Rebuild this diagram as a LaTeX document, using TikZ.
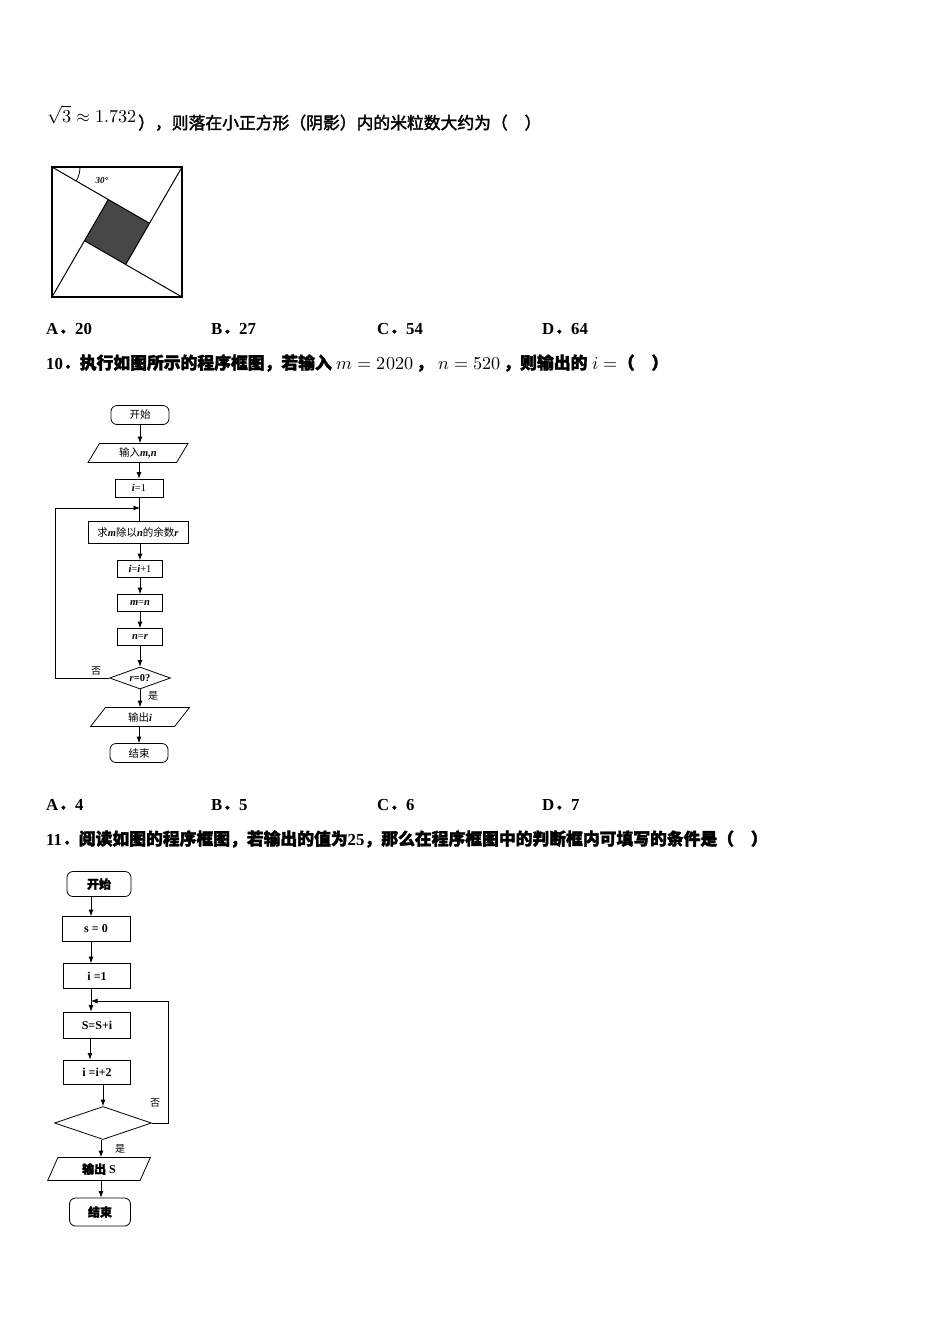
\documentclass[tikz,border=0pt]{standalone}
\usepackage{fontspec}
\usepackage{unicode-math}
\setmainfont{Liberation Serif}
\setmathfont{Latin Modern Math}[Scale=1.08]
\newfontfamily\cjk{Noto Sans CJK SC}
\newfontfamily\cjkb[FakeBold=2]{Noto Sans CJK SC}
\newcommand{\bi}[1]{{\rmfamily\bfseries\itshape #1}}
\usetikzlibrary{shapes.geometric,arrows.meta}
\begin{document}
\begin{tikzpicture}[x=1pt,y=-1pt,
  txt/.style={anchor=base west,inner sep=0,font=\fontsize{16.8}{19}\selectfont},
  box/.style={draw,line width=0.8pt,inner sep=0,font=\fontsize{10.5}{12}\selectfont},
  rbox/.style={box,rounded corners=6pt},
  para/.style={box,trapezium,trapezium left angle=62,trapezium right angle=118,trapezium stretches=true},
  dia/.style={box,diamond,aspect=2.8},
  arr/.style={-{Latex[length=6.5pt,width=5pt]},line width=0.8pt},
  ln/.style={line width=0.8pt},
  lbl/.style={inner sep=0,font=\cjk\fontsize{10}{11}\selectfont}]
\useasboundingbox (0,0) rectangle (950,1344);
% line 1
\node[txt] (sq) at (47,122) {$\sqrt{3}\approx1.732$};
\node[txt] (l1) at (138,129) {\cjkb ），则落在小正方形（阴影）内的米粒数大约为（　）};
% square figure
\coordinate (TL) at (52,167); \coordinate (TR) at (182,167);
\coordinate (BR) at (182,297); \coordinate (BL) at (52,297);
\coordinate (P1) at (149.5,223.3); \coordinate (P2) at (125.7,264.5);
\coordinate (P3) at (84.5,240.7); \coordinate (P4) at (108.3,199.5);
\fill[black!72] (P1)--(P2)--(P3)--(P4)--cycle;
\draw[line width=1.2pt] (TL) rectangle (BR);
\draw[line width=1pt] (TL)--(P1)--(TR) (TR)--(P2)--(BR) (BR)--(P3)--(BL) (BL)--(P4)--(TL);
\draw[ln] (80,167) arc[start angle=0,end angle=30,radius=28];
\node[inner sep=0,font=\bfseries\itshape\fontsize{9}{10}\selectfont] (ang) at (102,181) {30°};
% answers 9
\node[txt] (a9) at (46,334) {\bfseries A{\cjkb ．}20};
\node[txt] (b9) at (211,334) {\bfseries B{\cjkb ．}27};
\node[txt] (c9) at (377,334) {\bfseries C{\cjkb ．}54};
\node[txt] (d9) at (542,334) {\bfseries D{\cjkb ．}64};
% question 10
\node[txt] (q10) at (46,369) {\bfseries 10{\cjkb ．执行如图所示的程序框图，若输入}$\;m=2020\,${\cjkb ，}$\;n=520\,${\cjkb ，则输出的}$\;i=${\cjkb （　）}};
% flowchart 1
\node[rbox,minimum width=58,minimum height=19] (s1) at (140,415) {\cjk 开始};
\node[para,minimum width=100,minimum height=19] (in1) at (138,453) {{\cjk 输入}\bi{m,n}};
\node[box,minimum width=48,minimum height=18] (i1) at (139,488) {\bi{i}=1};
\node[box,minimum width=100,minimum height=22] (rem) at (138,532) {{\cjk 求}\bi{m}{\cjk 除以}\bi{n}{\cjk 的余数}\bi{r}};
\node[box,minimum width=45,minimum height=17] (inc) at (140,569) {\bi{i}=\bi{i}+1};
\node[box,minimum width=45,minimum height=17] (mn) at (140,603) {\bi{m}=\bi{n}};
\node[box,minimum width=45,minimum height=17] (nr) at (140,637) {\bi{n}=\bi{r}};
\node[dia,minimum width=61,minimum height=22] (d1) at (140,678) {\bi{r}\textbf{=0?}};
\node[para,minimum width=99,minimum height=19] (out1) at (140,717) {{\cjk 输出}\bi{i}};
\node[rbox,minimum width=58,minimum height=19] (e1) at (139,753) {\cjk 结束};
\coordinate (L1a) at (55,678); \coordinate (L1b) at (55,508); \coordinate (L1c) at (140,508);
\draw[arr] (s1)--(s1|-in1.north);
\draw[arr] (in1.south-|i1)--(i1);
\draw[ln] (i1)--(rem.north-|i1);
\draw[arr] (d1.west)--(L1a)--(L1b)--(L1c);
\draw[arr] (rem.south-|inc)--(inc);
\draw[arr] (inc)--(mn);
\draw[arr] (mn)--(nr);
\draw[arr] (nr)--(d1);
\draw[arr] (d1)--(d1|-out1.north);
\draw[arr] (out1.south-|e1)--(e1);
\node[lbl] (no1) at (96,671) {否};
\node[lbl] (yes1) at (153,696) {是};
% answers 10
\node[txt] (a10) at (46,810) {\bfseries A{\cjkb ．}4};
\node[txt] (b10) at (211,810) {\bfseries B{\cjkb ．}5};
\node[txt] (c10) at (377,810) {\bfseries C{\cjkb ．}6};
\node[txt] (d10) at (542,810) {\bfseries D{\cjkb ．}7};
% question 11
\node[txt] (q11) at (46,845) {\bfseries 11{\cjkb ．阅读如图的程序框图，若输出的值为}25{\cjkb ，那么在程序框图中的判断框内可填写的条件是（　）}};
% flowchart 2
\tikzset{box2/.style={box,font=\bfseries\fontsize{12}{14}\selectfont}}
\node[box2,rounded corners=6pt,minimum width=64,minimum height=25] (s2) at (99,884) {\cjkb 开始};
\node[box2,minimum width=68,minimum height=25] (z2) at (96,929) {s = 0};
\node[box2,minimum width=67,minimum height=25] (i2) at (97,976) {i =1};
\node[box2,minimum width=67,minimum height=26] (ss) at (97,1025) {S=S+i};
\node[box2,minimum width=67,minimum height=24] (ii) at (97,1072) {i =i+2};
\node[box,diamond,aspect=2.9,minimum width=97,minimum height=33] (d2) at (103,1123) {};
\node[box2,trapezium,trapezium left angle=70,trapezium right angle=110,trapezium stretches=true,minimum width=103,minimum height=23] (out2) at (99,1169) {{\cjkb 输出} S};
\node[box2,rounded corners=6pt,minimum width=61,minimum height=28] (e2) at (100,1212) {\cjkb 结束};
\coordinate (R2a) at (168,1123); \coordinate (R2b) at (168,1001); \coordinate (R2c) at (91,1001);
\coordinate (T2) at (91,995);
\draw[arr] ([xshift=-8]s2.south)--([xshift=-8]s2.south|-z2.north);
\draw[arr] ([xshift=-5]z2.south)--([xshift=-5]z2.south|-i2.north);
\draw[arr] (T2)--(T2|-ss.north);
\draw[arr] ([xshift=-7]ss.south)--([xshift=-7]ss.south|-ii.north);
\draw[arr] ([xshift=6]ii.south)--(d2.north);
\draw[arr] (d2.east)--(R2a)--(R2b)--(R2c);
\draw[ln] (i2.south-|T2)--(T2);
\draw[arr] ([xshift=-2]d2.south)--([xshift=-2]d2.south|-out2.north);
\draw[arr] ([xshift=2]out2.south)--([xshift=2]out2.south|-e2.north);
\node[lbl] (no2) at (155,1103) {否};
\node[lbl] (yes2) at (120,1149) {是};
\end{tikzpicture}
\end{document}
